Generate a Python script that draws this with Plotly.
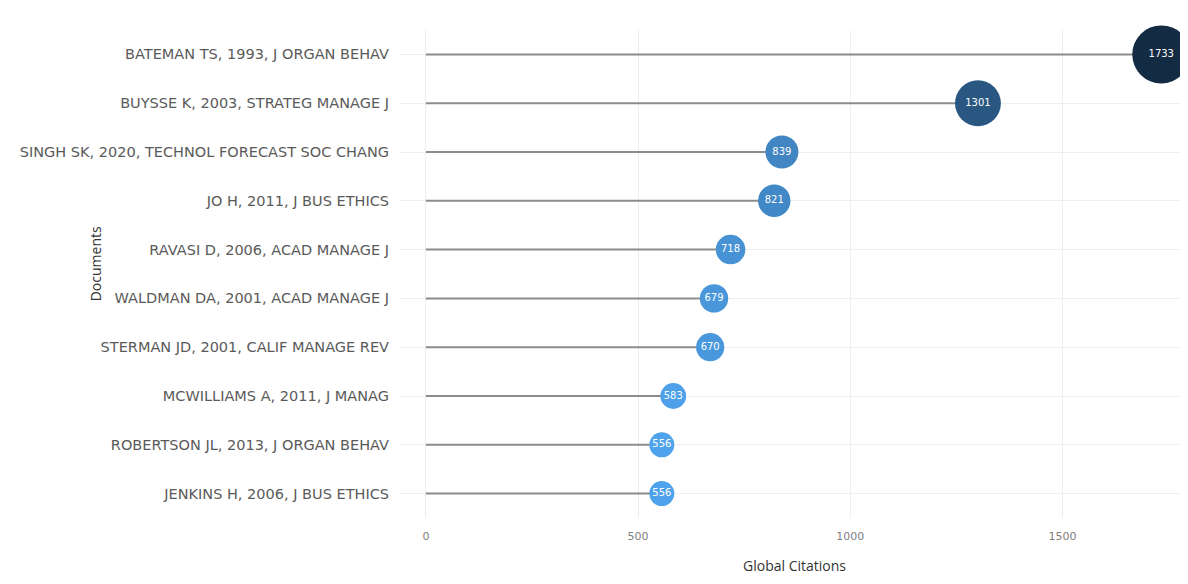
import plotly.graph_objects as go

documents = [
    "BATEMAN TS, 1993, J ORGAN BEHAV",
    "BUYSSE K, 2003, STRATEG MANAGE J",
    "SINGH SK, 2020, TECHNOL FORECAST SOC CHANG",
    "JO H, 2011, J BUS ETHICS",
    "RAVASI D, 2006, ACAD MANAGE J",
    "WALDMAN DA, 2001, ACAD MANAGE J",
    "STERMAN JD, 2001, CALIF MANAGE REV",
    "MCWILLIAMS A, 2011, J MANAG",
    "ROBERTSON JL, 2013, J ORGAN BEHAV",
    "JENKINS H, 2006, J BUS ETHICS",
]
citations = [1733, 1301, 839, 821, 718, 679, 670, 583, 556, 556]
x_ticks = [0, 500, 1000, 1500]

vmin, vmax = min(citations), max(citations)
sizes = [25 + 33 * (v - vmin) / (vmax - vmin) for v in citations]

fig = go.Figure()

for d, v in zip(documents, citations):
    fig.add_trace(go.Scatter(
        x=[0, v], y=[d, d], mode="lines",
        line=dict(color="#8c8c8c", width=2),
        hoverinfo="skip", showlegend=False,
    ))

fig.add_trace(go.Scatter(
    x=citations, y=documents, mode="markers+text",
    text=[str(v) for v in citations],
    textposition="middle center",
    textfont=dict(color="white", size=10, family="DejaVu Sans"),
    marker=dict(
        size=sizes, color=citations,
        colorscale=[[0, "#4fa3ec"], [1, "#132B43"]],
        cmin=vmin, cmax=vmax, line=dict(width=0), opacity=1,
    ),
    showlegend=False, cliponaxis=False,
))

fig.update_layout(
    width=1180, height=576,
    margin=dict(l=392, r=0, t=22, b=66),
    paper_bgcolor="white", plot_bgcolor="white",
    xaxis=dict(
        range=[-61, 1796], tickvals=x_ticks, ticktext=[str(t) for t in x_ticks],
        showgrid=True, gridcolor="#efefef", gridwidth=1, zeroline=False,
        tickfont=dict(family="DejaVu Sans", size=11, color="#808080"),
        ticks="", showline=False, ticklabelstandoff=10,
    ),
    yaxis=dict(
        categoryorder="array", categoryarray=documents[::-1],
        range=[-0.5, len(documents) - 0.5],
        showgrid=True, gridcolor="#efefef", gridwidth=1, zeroline=False,
        tickfont=dict(family="DejaVu Sans", size=14.5, color="#5a5a5a"),
        ticks="", showline=False, ticklabelstandoff=10,
    ),
    annotations=[
        dict(text="Documents", xref="paper", yref="paper", x=-0.387, y=0.52,
             textangle=-90, showarrow=False, xanchor="center", yanchor="middle",
             font=dict(family="Open Sans", size=14, color="#333333")),
        dict(text="Global Citations", xref="paper", yref="paper", x=0.5, y=-0.097,
             showarrow=False, xanchor="center", yanchor="middle",
             font=dict(family="Open Sans", size=14, color="#333333")),
    ],
)

fig.write_html("out.html")
